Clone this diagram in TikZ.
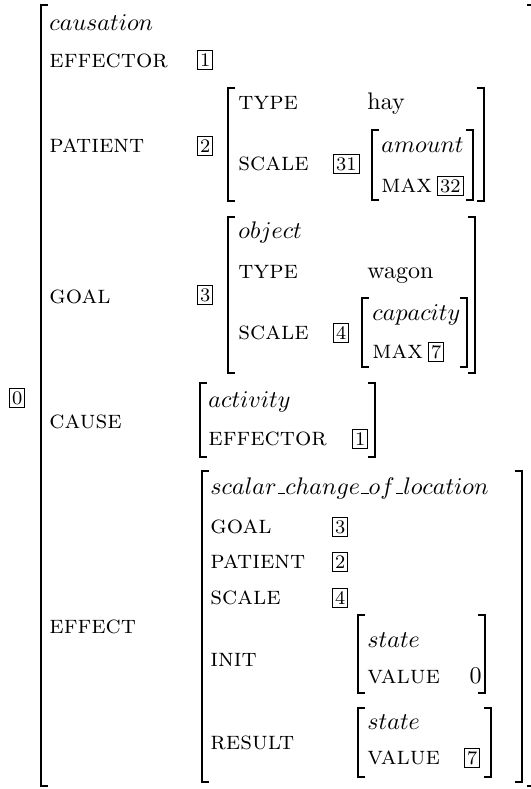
\documentclass[tikz,border=0pt]{standalone}
\tikzset{
  lbl/.style={anchor=west, inner sep=0pt, text height=7pt, text depth=2pt, font=\fontsize{10.7}{12}\selectfont\scshape},
  typ/.style={anchor=west, inner sep=0pt, text height=7pt, text depth=2pt, execute at begin node=$, execute at end node=$},
  val/.style={anchor=west, inner sep=0pt, text height=7pt, text depth=2pt},
  tag/.style={draw, line width=0.4pt, inner sep=1.1pt, font=\footnotesize, text height=5.4pt, text depth=0pt, anchor=west},
  brk/.style={line width=0.6pt},
}
\newcommand{\us}{\mbox{\kern.06em\vbox{\hrule width.3em}}}
\newcommand{\lbrk}[3]{\draw[brk] (#1+7,#2) -- (#1,#2) -- (#1,#3) -- (#1+7,#3);}
\newcommand{\rbrk}[3]{\draw[brk] (#1-7,#2) -- (#1,#2) -- (#1,#3) -- (#1-7,#3);}
\begin{document}
\begin{tikzpicture}[x=0.4167pt, y=-0.4167pt]
\useasboundingbox (0,0) rectangle (531,789);
\clip (0,0) rectangle (531,789);
% outer matrix
\lbrk{41}{5}{786}
\rbrk{534}{5}{786}
\node[tag] (t0) at (9,398) {0};
\node[typ] (causation) at (49,25) {causation};
\node[lbl] (effector) at (49,61) {effector};
\node[tag] (t1) at (197,60) {1};
% PATIENT
\node[lbl] (patient) at (49,146) {patient};
\node[tag] (t2) at (197,146) {2};
\lbrk{228}{88}{201}
\rbrk{484}{88}{201}
\node[lbl] (ptype) at (238,104) {type};
\node[val] (hay) at (367,104) {hay};
\node[lbl] (pscale) at (238,164) {scale};
\node[tag] (t31) at (333,164) {31};
\lbrk{372}{130}{200}
\rbrk{473}{130}{200}
\node[typ] (amount) at (381,146) {amount};
\node[lbl] (pmax) at (381,186) {max};
\node[tag] (t32) at (437,186) {32};
% GOAL
\node[lbl] (goal) at (49,297) {goal};
\node[tag] (t3) at (197,295) {3};
\lbrk{228}{217}{373}
\rbrk{475}{217}{373}
\node[typ] (object) at (238,232) {object};
\node[lbl] (gtype) at (238,272) {type};
\node[val] (wagon) at (367,272) {wagon};
\node[lbl] (gscale) at (238,333) {scale};
\node[tag] (t4) at (333,333) {4};
\lbrk{362}{298}{367}
\rbrk{467}{298}{367}
\node[typ] (capacity) at (372,314) {capacity};
\node[lbl] (gmax) at (372,352) {max};
\node[tag] (t7) at (428,352) {7};
% CAUSE
\node[lbl] (cause) at (49,422) {cause};
\lbrk{200}{383}{457}
\rbrk{375}{383}{457}
\node[typ] (activity) at (208,401) {activity};
\node[lbl] (ceff) at (208,439) {effector};
\node[tag] (t1b) at (352,439) {1};
% EFFECT
\node[lbl] (effect) at (49,627) {effect};
\lbrk{202}{471}{782}
\rbrk{522}{471}{782}
\node[typ] (scol) at (210,488) {scalar\us change\us of\us location};
\node[lbl] (egoal) at (210,527) {goal};
\node[tag] (t3b) at (332,527) {3};
\node[lbl] (epat) at (210,562) {patient};
\node[tag] (t2b) at (332,562) {2};
\node[lbl] (escale) at (210,598) {scale};
\node[tag] (t4b) at (332,598) {4};
\node[lbl] (init) at (210,660) {init};
\lbrk{358}{615}{693}
\rbrk{485}{615}{693}
\node[typ] (istate) at (367,641) {state};
\node[lbl] (ivalue) at (367,677) {value};
\node[val, anchor=east] (zero) at (482,677) {0};
\node[lbl] (result) at (210,743) {result};
\lbrk{358}{708}{777}
\rbrk{491}{708}{777}
\node[typ] (rstate) at (367,723) {state};
\node[lbl] (rvalue) at (367,758) {value};
\node[tag] (t7b) at (464,758) {7};
\end{tikzpicture}
\end{document}
